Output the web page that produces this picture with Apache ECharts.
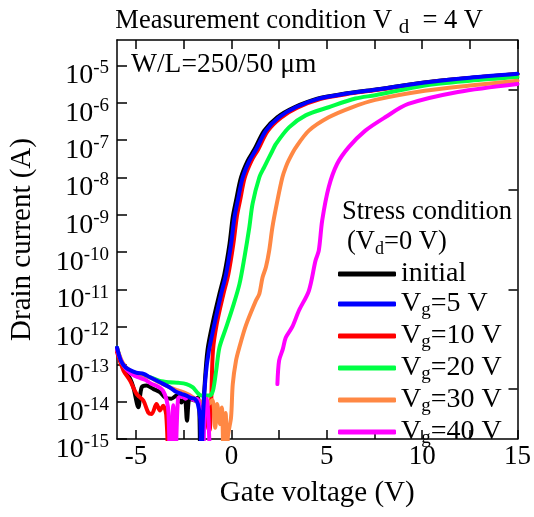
<!DOCTYPE html>
<html>
<head>
<meta charset="utf-8">
<script src="https://cdn.jsdelivr.net/npm/echarts@6/dist/echarts.min.js"></script>
<style>
  html, body { margin: 0; padding: 0; background: #fff; }
  #chart { width: 534px; height: 517px; }
</style>
</head>
<body>
<div id="chart"></div>
<script>
// 栅压 (V) / 漏电流 (A)，null 表示断开
const initialData = [
  [-6.0, 2.6e-13], [-5.8, 1.2e-13], [-5.57, 6.8e-14], [-5.3, 4.0e-14], [-5.14, 2.4e-14],
  [-4.88, 7.1e-15], [-4.71, 2.4e-14], [-4.45, 2.7e-14], [-4.1, 2.2e-14], [-3.75, 1.8e-14],
  [-3.49, 1.3e-14], [-3.15, 1.2e-14], [-2.88, 1.45e-14], [-2.62, 9.5e-15], [-2.45, 1.3e-14],
  [-2.33, 3.1e-15], [-2.19, 1.2e-14], [-1.93, 1.07e-14], [-1.76, 1.3e-14], [-1.68, 5e-15],
  [-1.62, 1e-16], [-1.52, 2e-15], [-1.4, 3e-14], [-1.25, 2.5e-13], [-0.98, 1.3e-12],
  [-0.63, 7.6e-12], [-0.37, 2.6e-11], [-0.1, 1.66e-10], [0.07, 8.7e-10], [0.24, 2.4e-9],
  [0.5, 1e-8], [0.85, 2.8e-8], [1.2, 5.6e-8], [1.72, 1.8e-7], [2.4, 4.1e-7], [3.3, 7.6e-7],
  [4.5, 1.29e-6], [5.9, 1.74e-6], [7.5, 2.24e-6], [10.1, 3.5e-6], [12.5, 4.6e-6], [15, 5.9e-6]
];
const vg5Data = [
  [-6.0, 2.8e-13], [-5.8, 1.26e-13], [-5.55, 8.3e-14], [-5.0, 6.0e-14], [-4.6, 5.5e-14],
  [-4.27, 4.5e-14], [-3.75, 3.3e-14], [-3.23, 2.4e-14], [-2.88, 1.8e-14], [-2.6, 1.6e-14],
  [-2.36, 1.45e-14], [-2.15, 1.26e-14], [-1.93, 1.2e-14], [-1.76, 8.7e-15], [-1.63, 3.2e-15],
  [-1.59, 1e-16], [-1.5, 3.2e-15], [-1.35, 5e-14], [-1.18, 2.3e-13], [-0.89, 1.2e-12],
  [-0.54, 7.6e-12], [-0.28, 2.6e-11], [-0.02, 1.66e-10], [0.16, 8.7e-10], [0.33, 2.4e-9],
  [0.59, 1e-8], [0.94, 2.8e-8], [1.29, 5.6e-8], [1.81, 1.8e-7], [2.5, 4.1e-7], [3.37, 7.6e-7],
  [4.58, 1.29e-6], [5.97, 1.74e-6], [7.54, 2.24e-6], [10.14, 3.5e-6], [12.5, 4.7e-6], [15, 6.0e-6]
];
const vg10Data = [
  [-6.0, 2.1e-13], [-5.66, 6.8e-14], [-5.31, 3.6e-14], [-4.97, 1.6e-14], [-4.62, 1.07e-14],
  [-4.36, 5.1e-15], [-4.18, 4.7e-15], [-3.93, 8.7e-15], [-3.75, 5.8e-15], [-3.58, 7.8e-15],
  [-3.42, 4.5e-15], [-3.3, 1e-16], [-3.2, null],
  [-1.32, 1.3e-14], [-1.22, 2e-15], [-1.15, 1.7e-15], [-1.06, 1.07e-14], [-0.97, 2.3e-13],
  [-0.77, 1.2e-12], [-0.42, 7.6e-12], [-0.16, 2.6e-11], [0.1, 1.66e-10], [0.28, 8.7e-10],
  [0.45, 2.4e-9], [0.7, 1e-8], [1.05, 2.8e-8], [1.4, 5.6e-8], [1.9, 1.75e-7], [2.6, 4.0e-7],
  [3.45, 7.4e-7], [4.65, 1.26e-6], [6.0, 1.7e-6], [7.6, 2.2e-6], [10.2, 3.45e-6], [12.5, 4.6e-6], [15, 5.8e-6]
];
const vg20Data = [
  [-6.0, 2.8e-13], [-5.7, 1.0e-13], [-5.3, 6.3e-14], [-4.8, 5.2e-14], [-4.27, 4.5e-14],
  [-3.75, 3.6e-14], [-3.23, 3.3e-14], [-2.8, 3.2e-14], [-2.36, 2.95e-14], [-2.02, 2.4e-14],
  [-1.81, 1.8e-14], [-1.59, 1.45e-14], [-1.15, 1.45e-14], [-0.97, 1.95e-14], [-0.8, 6.8e-14],
  [-0.63, 2.8e-13], [-0.3, 9e-13], [0.07, 3.4e-12], [0.42, 1.4e-11], [0.68, 7.2e-11],
  [0.94, 4.7e-10], [1.11, 2.0e-9], [1.46, 1.0e-8], [1.72, 1.9e-8], [2.15, 5.2e-8], [2.33, 7.9e-8],
  [3.02, 2.2e-7], [3.89, 4.6e-7], [5.1, 7.6e-7], [6.5, 1.3e-6], [7.54, 1.6e-6], [10.14, 2.9e-6],
  [12.5, 3.9e-6], [15, 4.9e-6]
];
const vg30Data = [
  [-6.0, 2.7e-13], [-5.7, 1.1e-13], [-5.3, 6.5e-14], [-4.8, 5.5e-14], [-4.3, 4.5e-14],
  [-3.8, 3.3e-14], [-3.3, 2.5e-14], [-2.8, 2.0e-14], [-2.3, 1.6e-14], [-2.0, 1.3e-14],
  [-1.6, 1.0e-14], [-1.3, 8e-15], [-1.0, 1.1e-14], [-0.85, 2e-15], [-0.75, 8.7e-15],
  [-0.6, 2.5e-15], [-0.5, 7e-15], [-0.4, 1e-16], [-0.3, 5e-15], [-0.22, 1e-16],
  [-0.19, 1.1e-15], [-0.02, 3.8e-15], [0.07, 2.95e-14], [0.24, 1.26e-13], [0.42, 2.9e-13],
  [0.76, 1.1e-12], [1.28, 5e-12], [1.46, 7.6e-12], [1.63, 2.1e-11], [1.81, 4e-11],
  [1.98, 1.1e-10], [2.15, 4.7e-10], [2.41, 2.4e-9], [2.67, 1.0e-8], [2.85, 1.9e-8],
  [3.02, 3.0e-8], [3.37, 6.3e-8], [4.06, 1.8e-7], [5.1, 4.1e-7], [6.32, 7.6e-7],
  [7.54, 1.2e-6], [10.14, 2.1e-6], [12.5, 2.9e-6], [15, 3.9e-6]
];
const vg40Data = [
  [-6.0, 2.5e-13], [-5.7, 1.0e-13], [-5.3, 5.8e-14], [-4.9, 4.5e-14], [-4.5, 3.8e-14],
  [-4.2, 3.0e-14], [-3.9, 2.6e-14], [-3.6, 2.0e-14], [-3.4, 1.1e-14], [-3.3, 5e-15],
  [-3.2, 1e-16], [-3.05, 8e-15], [-2.95, 1e-16], [-2.8, 1.2e-14], [-2.6, 1.4e-14],
  [-2.4, 1.2e-14], [-2.2, 1.4e-14], [-2.0, 1.1e-14], [-1.8, 1.2e-14], [-1.6, 4e-15],
  [-1.5, 1e-16], [-1.4, 9e-15], [-1.3, 1.2e-14], [-1.2, 3e-15], [-1.1, 1e-16], [-1.0, null],
  [2.41, 2.95e-14], [2.5, 1.26e-13], [2.69, 2.5e-13], [2.85, 5.2e-13], [3.19, 1.0e-12],
  [3.54, 2.75e-12], [4.06, 9.3e-12], [4.41, 6e-11], [4.58, 1.1e-10], [4.76, 7.1e-10],
  [5.1, 5.5e-9], [5.54, 2.3e-8], [6.15, 6.5e-8], [7.02, 1.8e-7], [8.06, 4.1e-7],
  [9.27, 9.3e-7], [11.875, 1.95e-6], [15, 3.2e-6]
];

const seriesNames = ["initial", "Vg=5 V", "Vg=10 V", "Vg=20 V", "Vg=30 V", "Vg=40 V"];
const seriesData = [initialData, vg5Data, vg10Data, vg20Data, vg30Data, vg40Data];
const seriesColors = ["#000000", "#0000ff", "#ff0000", "#00ff44", "#ff8844", "#ff00ff"];

const xTicks = [-5, -2.5, 0, 2.5, 5, 7.5, 10, 12.5, 15];
const xLabels = [-5, 0, 5, 10, 15];
const yTicks = [1e-15, 1e-14, 1e-13, 1e-12, 1e-11, 1e-10, 1e-9, 1e-8, 1e-7, 1e-6, 1e-5];
const rightTicks = [0.5, 1.5, 2.5, 3.5];

const font = "Liberation Serif";

const chart = echarts.init(document.getElementById("chart"));

const option = {
  animation: false,
  textStyle: { fontFamily: font, color: "#000" },
  graphic: [
    {
      type: "text",
      right: 51,
      top: 5,
      style: {
        text: "{a|Measurement condition V }{s|d}{a|  = 4 V}",
        rich: {
          a: { fontFamily: font, fontSize: 26.5, lineHeight: 28, fill: "#000" },
          s: { fontFamily: font, fontSize: 21, lineHeight: 18, padding: [12, 0, 0, 0], fill: "#000" },
        },
      },
    },
    {
      type: "text",
      left: 131,
      top: 51,
      style: { text: "W/L=250/50 μm", font: "27.5px " + font, fill: "#000" },
    },
    {
      type: "text",
      left: 342,
      top: 199,
      style: { text: "Stress condition", font: "26.5px " + font, fill: "#000" },
    },
    {
      type: "text",
      left: 347,
      top: 227,
      style: {
        text: "{a|(V}{s|d}{a|=0 V)}",
        rich: {
          a: { fontFamily: font, fontSize: 26.5, lineHeight: 28, fill: "#000" },
          s: { fontFamily: font, fontSize: 18, lineHeight: 16, padding: [13, 0, 0, 0], fill: "#000" },
        },
      },
    },
  ],
  legend: {
    orient: "vertical",
    left: 338,
    top: 260,
    padding: 0,
    itemGap: 0,
    itemWidth: 58,
    itemHeight: 5,
    icon: "roundRect",
    data: seriesNames,
    formatter: (name) => {
      if (name.indexOf("Vg") === 0) {
        return "{a|V}{s|g}{a|" + name.slice(2) + "}";
      }
      return "{a|" + name + "}";
    },
    textStyle: {
      padding: [0, 0, 0, 0],
      rich: {
        a: { fontFamily: font, fontSize: 28, lineHeight: 28, color: "#000" },
        s: { fontFamily: font, fontSize: 19, lineHeight: 15, padding: [13, 0, 0, 0], color: "#000" },
      },
    },
  },
  grid: { left: 116, right: 13, top: 40, bottom: 78 },
  xAxis: [
    {
      type: "value",
      min: -6,
      max: 15,
      name: "Gate voltage (V)",
      nameLocation: "middle",
      nameGap: 40,
      nameTextStyle: { fontFamily: font, fontSize: 29, color: "#000" },
      axisLine: { onZero: false, lineStyle: { color: "#000", width: 1.5 } },
      axisTick: { inside: true, length: 9, customValues: xTicks, lineStyle: { color: "#000", width: 1.5 } },
      axisLabel: { customValues: xLabels, fontFamily: font, fontSize: 27, color: "#000", margin: 4 },
      splitLine: { show: false },
    },
    {
      type: "value",
      position: "top",
      min: -6,
      max: 15,
      axisLine: { onZero: false, lineStyle: { color: "#000", width: 1.5 } },
      axisTick: { inside: true, length: 9, customValues: xTicks, lineStyle: { color: "#000", width: 1.5 } },
      axisLabel: { show: false },
      splitLine: { show: false },
    },
  ],
  yAxis: [
    {
      type: "log",
      min: 1e-15,
      max: 4.8e-5,
      name: "Drain current (A)",
      nameLocation: "middle",
      nameGap: 80,
      nameTextStyle: { fontFamily: font, fontSize: 29, color: "#000" },
      axisLine: { onZero: false, lineStyle: { color: "#000", width: 1.5 } },
      axisTick: { inside: true, length: 10, customValues: yTicks, lineStyle: { color: "#000", width: 1.5 } },
      minorTick: { show: false },
      axisLabel: {
        customValues: yTicks,
        margin: 8,
        padding: [14, 0, 0, 0],
        formatter: (v) => "{m|10}{e|" + Math.round(Math.log10(v)) + "}",
        rich: {
          m: { fontFamily: font, fontSize: 28, lineHeight: 27, padding: [7, 0, 0, 0], color: "#000" },
          e: { fontFamily: font, fontSize: 19, lineHeight: 17, verticalAlign: "top", color: "#000" },
        },
      },
      splitLine: { show: false },
    },
    {
      type: "value",
      position: "right",
      min: 0,
      max: 4,
      axisLine: { show: true, onZero: false, lineStyle: { color: "#000", width: 1.5 } },
      axisTick: { inside: true, length: 9, customValues: rightTicks, lineStyle: { color: "#000", width: 1.5 } },
      axisLabel: { show: false },
      splitLine: { show: false },
    },
  ],
  series: seriesNames.map((name, i) => ({
    name: name,
    type: "line",
    data: seriesData[i],
    xAxisIndex: 0,
    yAxisIndex: 0,
    showSymbol: false,
    symbol: "none",
    smooth: 0.3,
    connectNulls: false,
    clip: true,
    z: name === "Vg=5 V" ? 4 : 2,
    color: seriesColors[i],
    lineStyle: { width: 4, color: seriesColors[i], cap: "round", join: "round" },
  })),
};

chart.setOption(option);
</script>
</body>
</html>
